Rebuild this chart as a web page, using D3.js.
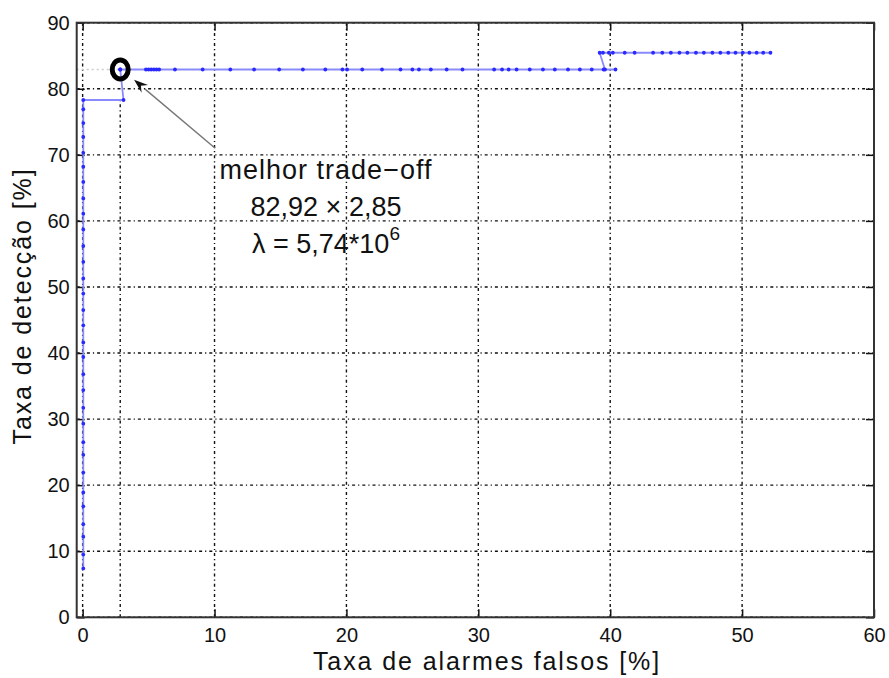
<!DOCTYPE html>
<html>
<head>
<meta charset="utf-8">
<script src="https://cdn.jsdelivr.net/npm/d3@7"></script>
<style>
  html, body { margin: 0; padding: 0; background: #fff; }
  svg { display: block; }
  text { font-family: "Liberation Sans", Arial, Helvetica, sans-serif; fill: #111; }
</style>
</head>
<body>
<svg id="chart" width="889" height="678"></svg>
<script>
// ROC-style curve: false alarm rate (x) vs detection rate (y), both in %
// Rising segment hugging x = 0
const riseX = [0.05, 0.05, 0.05, 0.05, 0.05, 0.05, 0.05, 0.05, 0.05, 0.05, 0.05, 0.05, 0.05, 0.05, 0.05, 0.05,
               0.05, 0.05, 0.05, 0.05, 0.05, 0.05, 0.05, 0.05, 0.05, 0.05, 0.05, 0.05, 0.05, 0.05, 0.05];
const riseY = [7.4, 9.5, 12.2, 14.1, 16.8, 18.9, 21.9, 24.6, 26.5, 29.3, 31.7, 34.4, 36.8, 39.4, 41.6, 44.2,
               46.5, 49.0, 51.3, 53.8, 56.2, 58.7, 61.1, 63.4, 65.9, 68.2, 70.3, 72.7, 74.8, 76.9, 78.3];
// Step to the best operating point
const stepX = [3.1, 2.85];
const stepY = [78.3, 82.92];
// Plateau at the best detection rate
const plateauX = [4.8, 5.0, 5.2, 5.4, 5.6, 5.8, 7.0, 9.1, 11.2, 13.0, 14.9, 16.7, 18.4, 19.7, 20.05, 21.2, 22.7,
                  24.1, 25.0, 25.5, 26.4, 27.6, 28.8, 31.2, 31.8, 32.3, 32.9, 33.9, 34.9, 35.8, 36.8, 37.7,
                  38.6, 39.5, 40.4, 39.6];
const plateauY = 82.92;
// Upper plateau
const upperX = [39.2, 39.45, 39.9, 40.2, 41.1, 41.85, 43.25, 43.95, 44.6, 45.25, 45.85, 46.5, 47.1, 47.75,
                48.35, 48.95, 49.5, 50.05, 50.55, 51.1, 51.6, 52.15];
const upperY = 85.45;

// Best trade-off point and its label
const bestFA = 2.85;
const bestDet = 82.92;
const noteLines = ["melhor trade\u2212off", "82,92 \u00d7 2,85"];
const lambdaMant = "\u03bb = 5,74*10";
const lambdaExp = "6";
const noteTail = [10.05, 71.0];   // arrow tail (data units)
const noteHead = [3.9, 81.35];    // arrow tip (data units)

// Axes
const xTicks = [0, 10, 20, 30, 40, 50, 60];
const yTicks = [0, 10, 20, 30, 40, 50, 60, 70, 80, 90];
const xLabel = "Taxa de alarmes falsos [%]";
const yLabel = "Taxa de detecção [%]";

// ---- assemble the curve ----
const curve = [];
riseX.forEach((x, i) => curve.push([x, riseY[i]]));
stepX.forEach((x, i) => curve.push([x, stepY[i]]));
plateauX.forEach(x => curve.push([x, plateauY]));
upperX.forEach(x => curve.push([x, upperY]));

const svg = d3.select("#chart");
const L = 76.7, R = 874, T = 22.7, B = 617.3;

const x = d3.scaleLinear().domain([-0.45, 60]).range([L, R]);
const y = d3.scaleLinear().domain([0, 90]).range([B, T]);

// plot background
svg.append("rect").attr("x", L).attr("y", T).attr("width", R - L).attr("height", B - T).attr("fill", "#fff");

// grid
const grid = svg.append("g").attr("stroke", "#111").attr("stroke-width", 1.4).attr("stroke-dasharray", "3,3,1.2,3");
grid.selectAll("line.gx").data(xTicks).join("line")
  .attr("x1", d => x(d)).attr("x2", d => x(d)).attr("y1", B).attr("y2", T);
grid.selectAll("line.gy").data(yTicks).join("line")
  .attr("y1", d => y(d)).attr("y2", d => y(d)).attr("x1", L).attr("x2", R);

// guide lines to the best point
svg.append("line")
  .attr("x1", x(bestFA)).attr("x2", x(bestFA)).attr("y1", y(0)).attr("y2", y(stepY[0]))
  .attr("stroke", "#111").attr("stroke-width", 1.4).attr("stroke-dasharray", "3,3,1.2,3");
svg.append("line")
  .attr("x1", L).attr("x2", x(bestFA)).attr("y1", y(bestDet)).attr("y2", y(bestDet))
  .attr("stroke", "#ccc").attr("stroke-width", 1.3).attr("stroke-dasharray", "2,3");

// axes: ticks on all four sides, pointing inward
const fmt = d3.format("d");
const axB = svg.append("g").attr("transform", `translate(0,${B})`)
  .call(d3.axisBottom(x).tickValues(xTicks).tickFormat(fmt).tickSizeInner(-8).tickSizeOuter(0).tickPadding(11));
const axL = svg.append("g").attr("transform", `translate(${L},0)`)
  .call(d3.axisLeft(y).tickValues(yTicks).tickFormat(fmt).tickSizeInner(-8).tickSizeOuter(0).tickPadding(7));
const axT = svg.append("g").attr("transform", `translate(0,${T})`)
  .call(d3.axisTop(x).tickValues(xTicks).tickFormat("").tickSizeInner(-8).tickSizeOuter(0));
const axR = svg.append("g").attr("transform", `translate(${R},0)`)
  .call(d3.axisRight(y).tickValues(yTicks).tickFormat("").tickSizeInner(-8).tickSizeOuter(0));
[axB, axL, axT, axR].forEach(g => {
  g.select(".domain").remove();
  g.selectAll(".tick line").attr("stroke", "#111").attr("stroke-width", 1.5);
  g.selectAll(".tick text").attr("font-size", 20).attr("font-family", "Liberation Sans, Arial, sans-serif").attr("fill", "#111");
});

// curve
svg.append("path").datum(curve)
  .attr("fill", "none").attr("stroke", "#8a8aff").attr("stroke-width", 1.8)
  .attr("d", d3.line().x(d => x(d[0])).y(d => y(d[1])));
svg.append("g").selectAll("circle").data(curve).join("circle")
  .attr("cx", d => x(d[0])).attr("cy", d => y(d[1])).attr("r", 1.9).attr("fill", "#2a2aff");

// best point marker
svg.append("ellipse")
  .attr("cx", x(bestFA)).attr("cy", y(bestDet)).attr("rx", 8).attr("ry", 9.5)
  .attr("fill", "none").attr("stroke", "#000").attr("stroke-width", 5);
svg.append("circle").attr("cx", x(bestFA)).attr("cy", y(bestDet)).attr("r", 2).attr("fill", "#2a2aff");

// frame
svg.append("rect").attr("x", L).attr("y", T).attr("width", R - L).attr("height", B - T)
  .attr("fill", "none").attr("stroke", "#333").attr("stroke-width", 2);

// annotation arrow
const tx = x(noteTail[0]), ty = y(noteTail[1]);
const hx = x(noteHead[0]), hy = y(noteHead[1]);
const ang = Math.atan2(hy - ty, hx - tx);
const hl = 14, hw = 5;
const bx = hx - hl * Math.cos(ang), by = hy - hl * Math.sin(ang);
svg.append("line").attr("x1", tx).attr("y1", ty).attr("x2", bx).attr("y2", by)
  .attr("stroke", "#777").attr("stroke-width", 1.4);
svg.append("path")
  .attr("d", `M${hx},${hy} L${bx + hw * Math.sin(ang)},${by - hw * Math.cos(ang)} L${hx - 9 * Math.cos(ang)},${hy - 9 * Math.sin(ang)} L${bx - hw * Math.sin(ang)},${by + hw * Math.cos(ang)} Z`)
  .attr("fill", "#111");

// annotation text
const cx = 326;
const note = svg.append("g").attr("font-size", 27).attr("text-anchor", "middle");
note.append("text").attr("x", cx).attr("y", ty + 31).attr("letter-spacing", 1).text(noteLines[0]);
note.append("text").attr("x", cx).attr("y", ty + 68).text(noteLines[1]);
const lam = note.append("text").attr("x", cx).attr("y", ty + 105);
lam.append("tspan").text(lambdaMant);
lam.append("tspan").attr("dy", -13).attr("font-size", 19).text(lambdaExp);

// axis labels
svg.append("text").attr("x", 487).attr("y", 670).attr("text-anchor", "middle")
  .attr("font-size", 25).attr("letter-spacing", 1.9).text(xLabel);
svg.append("text").attr("transform", "translate(31,306) rotate(-90)").attr("text-anchor", "middle")
  .attr("font-size", 25).attr("letter-spacing", 1.9).text(yLabel);
</script>
</body>
</html>
